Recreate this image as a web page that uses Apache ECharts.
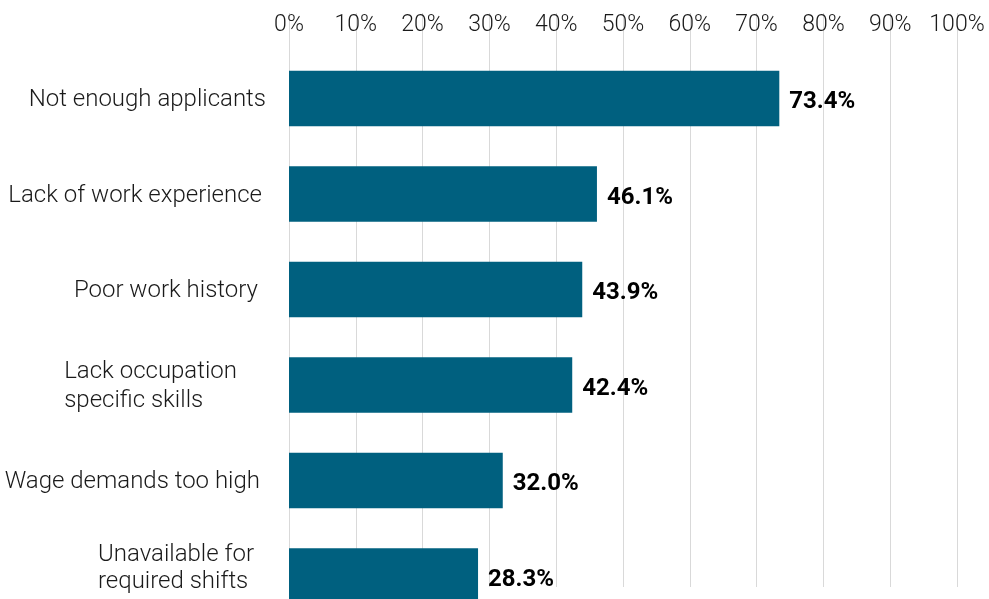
<!DOCTYPE html>
<html>
<head>
<meta charset="utf-8">
<script src="https://cdn.jsdelivr.net/npm/echarts@6/dist/echarts.min.js"></script>
<style>
html,body{margin:0;padding:0;background:#fff;}
#chart{width:989px;height:599px;}
</style>
</head>
<body>
<div id="chart"></div>
<script>
const categories = [
  'Not enough applicants',
  'Lack of work experience',
  'Poor work history',
  'Lack occupation\nspecific skills',
  'Wage demands too high',
  'Unavailable for\nrequired shifts'
];
const values = [73.4, 46.1, 43.9, 42.4, 32.0, 28.3];
const axisMin = 0, axisMax = 100, axisStep = 10;

// styling only
const labelPadRight = [23, 27, 31, 52, 29, 35];
const rich = {};
labelPadRight.forEach((p, i) => {
  rich['c' + i] = {
    fontFamily: 'Roboto', fontWeight: 300, fontSize: 24, color: '#1a1a1a',
    align: 'left', lineHeight: 29, padding: [4, p, 0, 0]
  };
});
rich.c5 = Object.assign({}, rich.c5, {padding: [0, 35, 0, 0]});
rich.c5b = Object.assign({}, rich.c5, {lineHeight: 41, verticalAlign: 'top', padding: [0, 35, 0, 0]});

const chart = echarts.init(document.getElementById('chart'), null, {renderer: 'canvas'});
chart.setOption({
  animation: false,
  grid: [
    {left: 289, right: 32, top: 13, height: 574, outerBoundsMode: 'none', containLabel: false},
    {left: 289, right: 32, top: 50.7, height: 573, outerBoundsMode: 'none', containLabel: false}
  ],
  xAxis: [
    {
      gridIndex: 0, type: 'value', min: axisMin, max: axisMax, interval: axisStep,
      position: 'top',
      axisLine: {show: false}, axisTick: {show: false},
      splitLine: {show: true, lineStyle: {color: '#d9d9d9', width: 1}},
      axisLabel: {
        inside: true, margin: 1, formatter: '{value}%',
        fontFamily: 'Roboto', fontWeight: 300, fontSize: 23, color: '#1a1a1a'
      }
    },
    {
      gridIndex: 1, type: 'value', min: axisMin, max: axisMax, show: false
    }
  ],
  yAxis: [
    {gridIndex: 0, type: 'value', show: false},
    {
      gridIndex: 1, type: 'category', data: categories, inverse: true,
      axisLine: {show: false}, axisTick: {show: false}, splitLine: {show: false},
      axisLabel: {
        margin: 0,
        formatter: function (v, i) {
          if (i === 5) {
            const parts = v.split('\n');
            return '{c5|' + parts[0] + '}\n{c5b|' + parts[1] + '}';
          }
          return v.split('\n').map(s => '{c' + i + '|' + s + '}').join('\n');
        },
        rich: rich
      }
    }
  ],
  series: [{
    type: 'bar', xAxisIndex: 1, yAxisIndex: 1,
    data: values, barWidth: 55.5,
    itemStyle: {color: '#00607f'},
    label: {
      show: true, position: 'right', distance: 10, offset: [0, 4],
      formatter: p => p.value.toFixed(1) + '%',
      fontFamily: 'Roboto', fontWeight: 'bold', fontSize: 24, color: '#000'
    }
  }]
});
</script>
</body>
</html>
